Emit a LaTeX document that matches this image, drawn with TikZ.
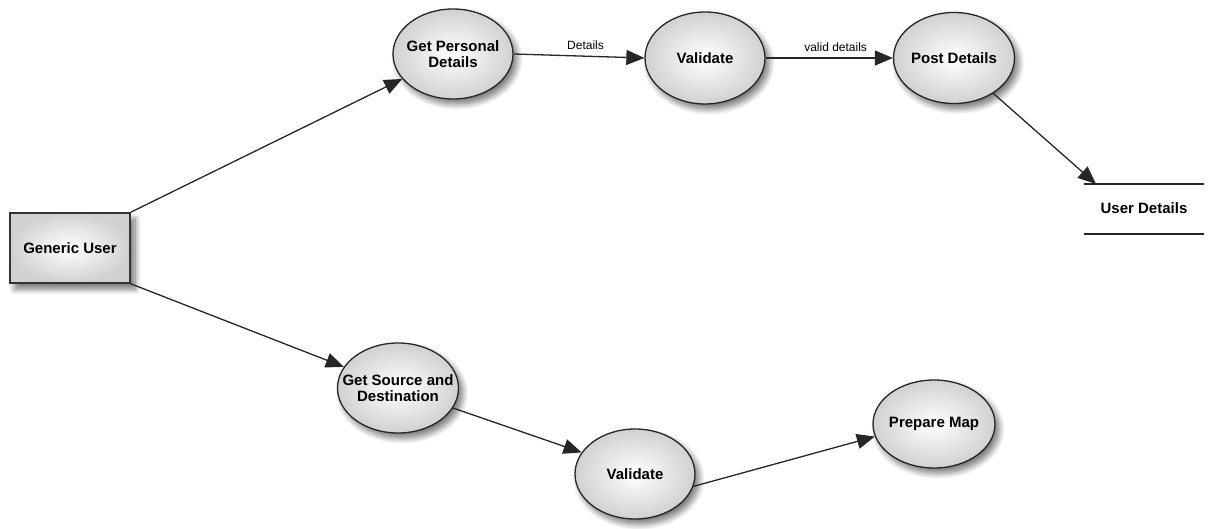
\documentclass[tikz,border=0pt]{standalone}
\usepackage{fontspec}
\setmainfont{Liberation Sans}
\usetikzlibrary{arrows.meta,shadows.blur,shapes.geometric}
\newcommand{\zb}[1]{\makebox[0pt][c]{#1}}
\begin{document}
\begin{tikzpicture}[x=1pt,y=-1pt,
  proc/.style={ellipse,draw=black!85,line width=1.3pt,minimum width=120pt,minimum height=90pt,inner sep=0pt,
    shading=radial,inner color=white,outer color=black!18,
    blur shadow={shadow xshift=4pt,shadow yshift=-5pt,shadow blur radius=6pt,shadow blur steps=10,shadow opacity=55},
    font=\fontsize{15}{16.5}\selectfont\bfseries,align=center},
  ent/.style={rectangle,draw=black!80,line width=1.6pt,minimum width=120pt,minimum height=70pt,inner sep=0pt,
    shading=radial,inner color=white,outer color=black!18,
    blur shadow={shadow xshift=5pt,shadow yshift=-6pt,shadow blur radius=6pt,shadow blur steps=10,shadow opacity=55},
    font=\fontsize{15}{16.5}\selectfont\bfseries},
  flow/.style={draw=black!85,line width=1.3pt,-{Triangle[length=18pt,width=15pt]}},
  lbl/.style={font=\fontsize{12}{14}\selectfont,inner sep=1.5pt},
  storetext/.style={font=\fontsize{15}{16.5}\selectfont\bfseries},
  storeline/.style={draw=black!85,line width=1.3pt}]
\useasboundingbox (0,0) rectangle (1214,529);
\node[ent] (gu) at (70,248) {Generic User};
\node[proc] (gpd) at (453,54) {\zb{Get Personal}\\\zb{Details}};
\node[proc,minimum height=92pt] (val1) at (705,58) {\zb{Validate}};
\node[proc,minimum width=121pt,minimum height=91pt] (post) at (954,58) {\zb{Post Details}};
\node[proc,minimum width=121pt,minimum height=90pt] (gsd) at (398,388) {\zb{Get Source and}\\\zb{Destination}};
\node[proc] (val2) at (635,474) {\zb{Validate}};
\node[proc,minimum width=122pt,minimum height=88pt] (map) at (934,424) {\zb{Prepare Map}};
\node[storetext] (ud) at (1144,208) {User Details};
\coordinate (udtl) at (1084,184);
\coordinate (udtr) at (1204,184);
\coordinate (udbl) at (1084,234);
\coordinate (udbr) at (1204,234);
\coordinate (udin) at (1096,184);
\draw[storeline] (udtl) -- (udtr);
\draw[storeline] (udbl) -- (udbr);
\draw[flow] (gu.north east) -- (gpd);
\draw[flow] (gu.south east) -- (gsd);
\draw[flow] (gpd.east) -- node[lbl,above=4pt,pos=0.55] {Details} (val1.west);
\draw[flow] (val1.east) -- node[lbl,above=4pt,pos=0.55] {valid details} (post.west);
\draw[flow] (post.-42) -- (udin);
\draw[flow] (gsd.-20) -- (val2.158);
\draw[flow] (val2.-12) -- (map.192);
\end{tikzpicture}
\end{document}
